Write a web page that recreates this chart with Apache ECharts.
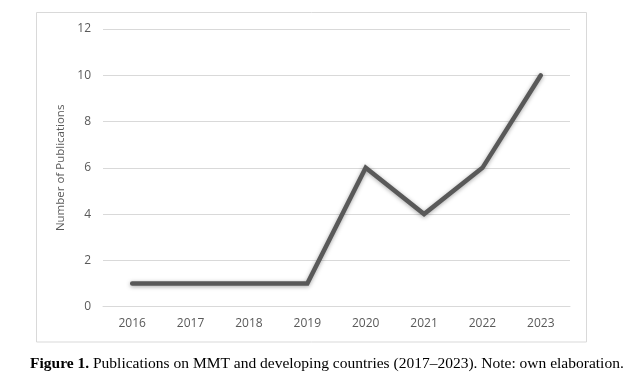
<!DOCTYPE html>
<html><head><meta charset="utf-8">
<script src="https://cdn.jsdelivr.net/npm/echarts@6/dist/echarts.min.js"></script>
<style>html,body{margin:0;padding:0;background:#fff}#c{width:630px;height:384px}</style>
</head><body><div id="c"></div>
<script>
const years = ['2016','2017','2018','2019','2020','2021','2022','2023'];
const publications = [1,1,1,1,6,4,6,10];
const yTicks = {min:0, max:12, interval:2};
const yTitle = 'Number of Publications';
const captionBold = 'Figure 1.';
const captionText = ' Publications on MMT and developing countries (2017–2023). Note: own elaboration.';

const chart = echarts.init(document.getElementById('c'), null, {renderer:'canvas'});
chart.setOption({
  animation:false,
  backgroundColor:'#fff',
  grid:{left:103, right:60, top:29, bottom:77.3},
  xAxis:{
    type:'category', data:years, boundaryGap:true,
    axisLine:{show:true, lineStyle:{color:'#d9d9d9', width:1}},
    axisTick:{show:false},
    axisLabel:{color:'#595959', fontFamily:'Open Sans', fontSize:12, margin:11}
  },
  yAxis:{
    type:'value', min:yTicks.min, max:yTicks.max, interval:yTicks.interval,
    name:yTitle, nameLocation:'middle', nameGap:29, nameRotate:90,
    nameTextStyle:{color:'#595959', fontFamily:'Open Sans', fontSize:11.5},
    axisLine:{show:false}, axisTick:{show:false},
    axisLabel:{color:'#595959', fontFamily:'Open Sans', fontSize:12, margin:12},
    splitLine:{lineStyle:{color:'#d9d9d9', width:1}}
  },
  series:[{
    type:'line', data:publications, symbol:'none',
    lineStyle:{color:'#595959', width:4.5, cap:'round', join:'miter',
      shadowColor:'rgba(0,0,0,0.35)', shadowBlur:4, shadowOffsetY:1}
  }],
  graphic:[
    {type:'rect', shape:{x:36.5, y:12.5, width:550, height:329.5}, style:{fill:'none', stroke:'#d9d9d9', lineWidth:1}, silent:true},
    {type:'text', left:30, top:356, style:{
      rich:{b:{fontWeight:'bold', fontFamily:'Liberation Serif', fontSize:15.5, fill:'#000'},
            n:{fontFamily:'Liberation Serif', fontSize:15.5, fill:'#000'}},
      text:'{b|'+captionBold+'}{n|'+captionText+'}'
    }}
  ]
});
</script></body></html>
